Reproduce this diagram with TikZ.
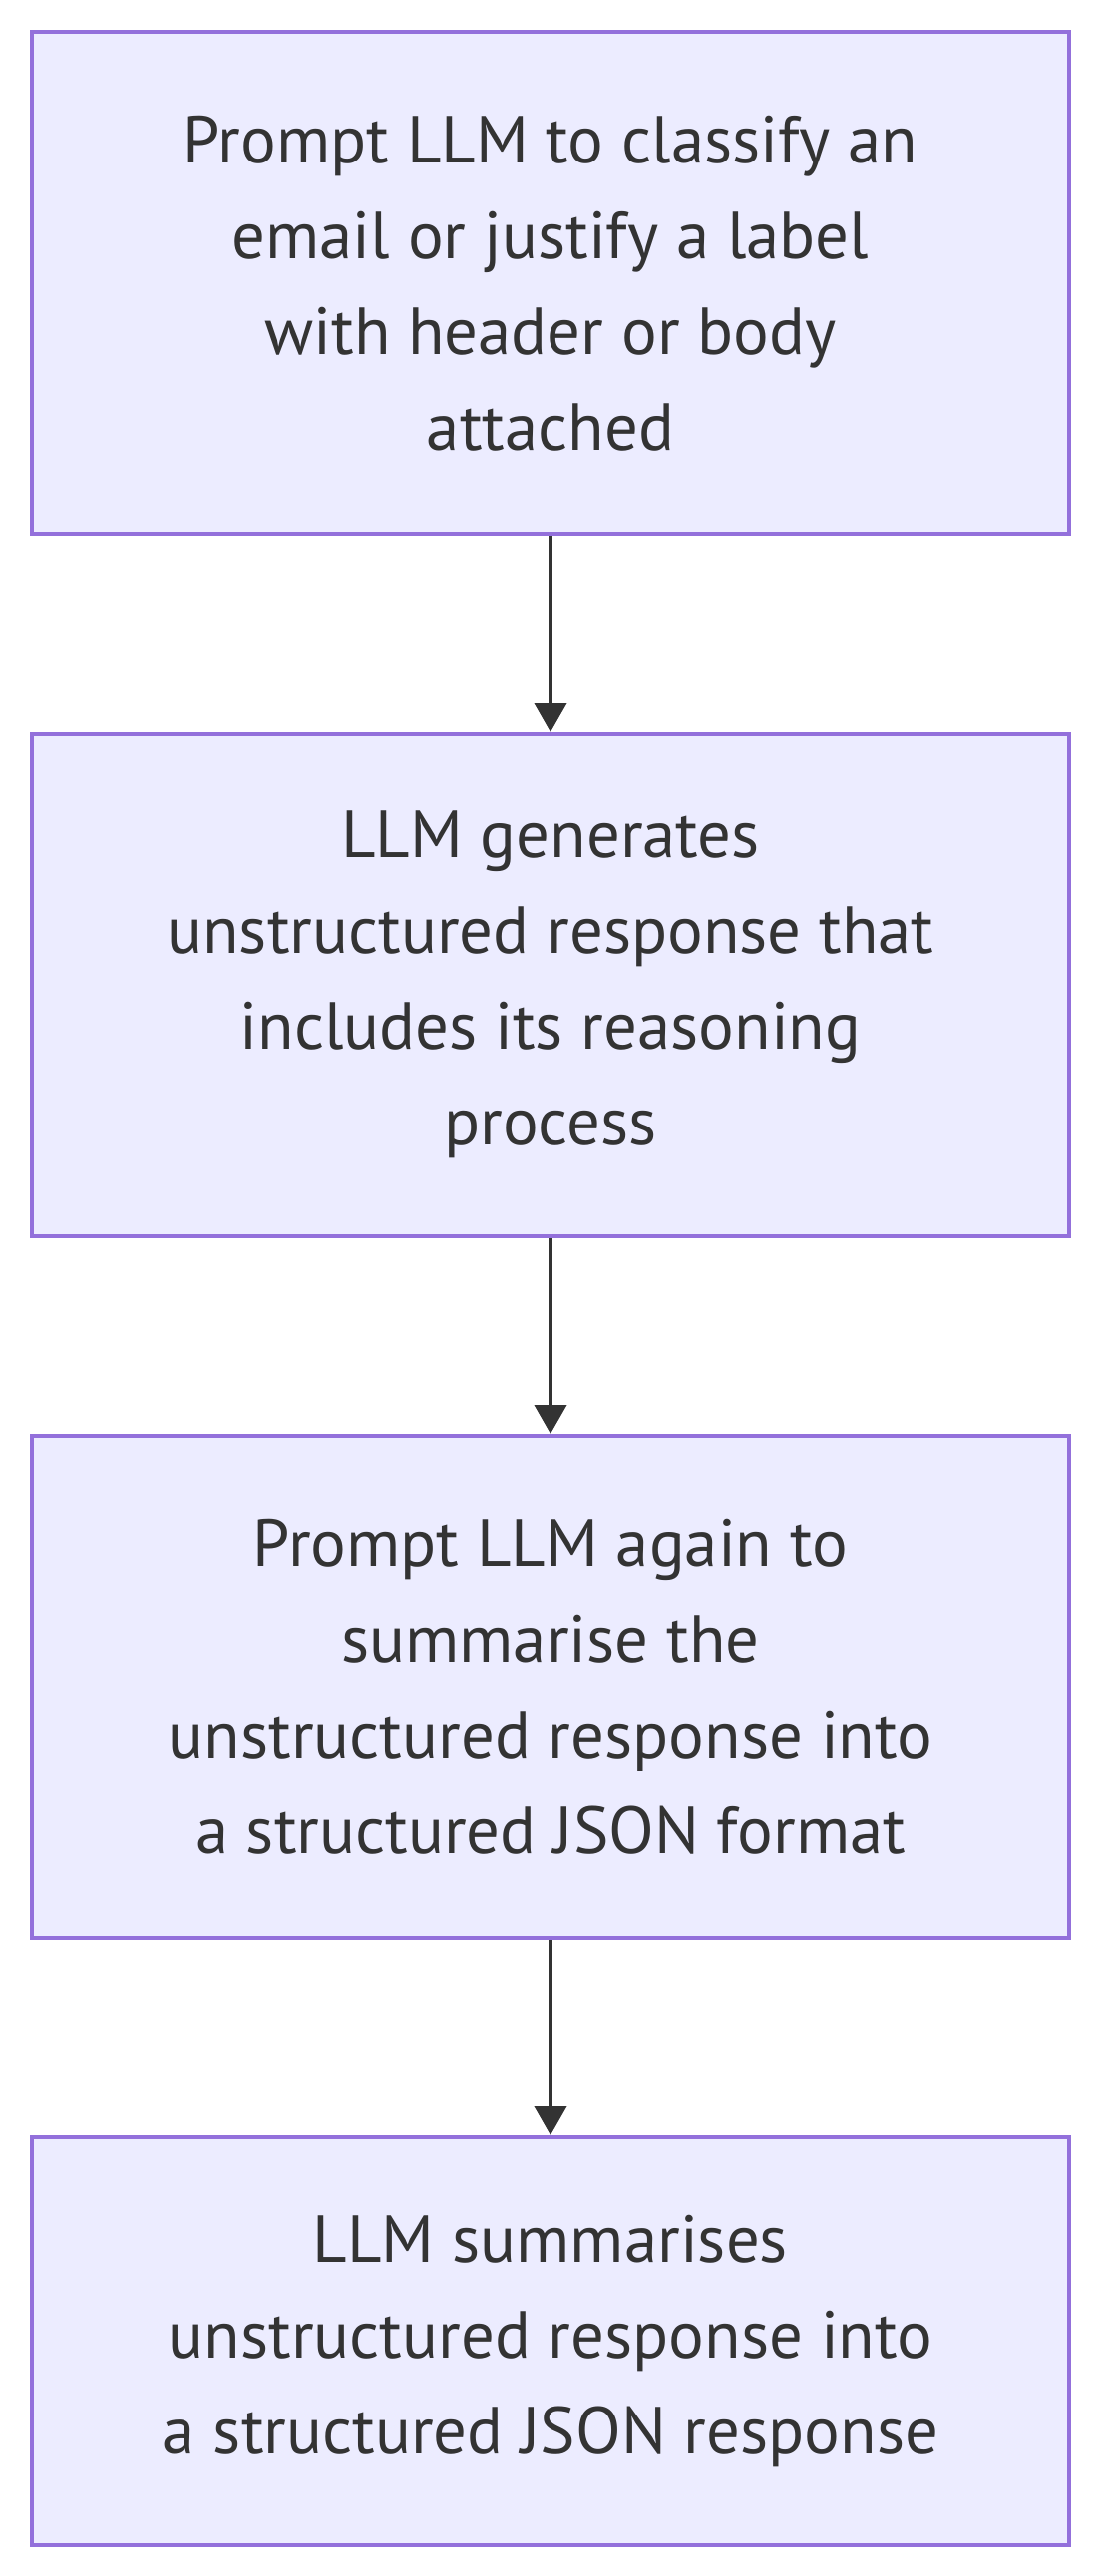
\documentclass[tikz,border=0pt]{standalone}
\usepackage{fontspec}
\setmainfont{PT Sans}
\usetikzlibrary{positioning,arrows.meta}
\definecolor{boxfill}{HTML}{ECECFF}
\definecolor{boxline}{HTML}{9370DB}
\definecolor{inktext}{HTML}{333333}
\tikzset{
	stepbox/.style={draw=boxline, fill=boxfill, line width=0.08cm, inner sep=0pt,
		minimum width=20.8cm, minimum height=10.08cm, align=center, text=inktext,
		font=\fontsize{38}{54.6}\selectfont},
	flow/.style={draw=inktext, line width=0.08cm, -{Triangle[width=0.64cm,length=0.58cm]}}
}
\begin{document}
\begin{tikzpicture}
	% page frame
	\useasboundingbox (0,0) rectangle (22.08,-51.68);
	
	% the four steps
	\node[stepbox] (prompt) at (11.04,-5.68) {Prompt LLM to classify an\\email or justify a label\\with header or body\\attached};
	\node[stepbox, below=3.92cm of prompt] (reason) {LLM generates\\unstructured response that\\includes its reasoning\\process};
	\node[stepbox, below=3.92cm of reason] (again) {Prompt LLM again to\\summarise the\\unstructured response into\\a structured JSON format};
	\node[stepbox, below=3.92cm of again, minimum height=8.18cm] (json) {LLM summarises\\unstructured response into\\a structured JSON response};
	
	% arrows
	\draw[flow] (prompt) -- (reason);
	\draw[flow] (reason) -- (again);
	\draw[flow] (again) -- (json);
\end{tikzpicture}
\end{document}
